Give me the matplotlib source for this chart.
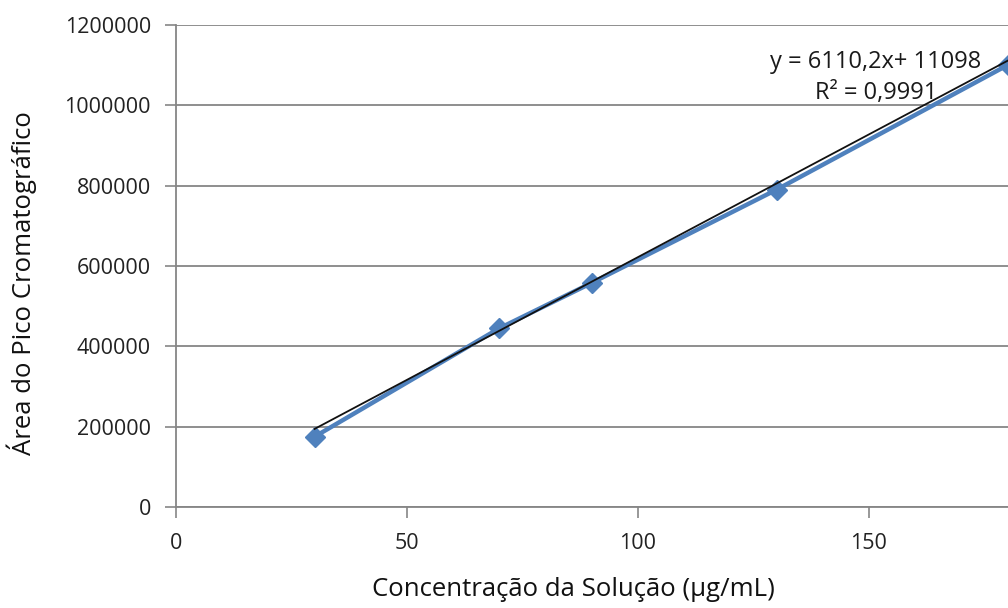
import matplotlib
matplotlib.use("Agg")
import matplotlib.pyplot as plt
import numpy as np

# calibration points: concentration (ug/mL) vs chromatographic peak area
concentracao = [30, 70, 90, 130, 180]
area = [175000, 445000, 558000, 790000, 1100000]

# linear fit reported on the chart
slope = 6110.2
intercept = 11098
r2 = 0.9991

plt.rcParams['font.family'] = ['Open Sans', 'DejaVu Sans']

fig = plt.figure(figsize=(10.08, 6.08), dpi=100)
ax = fig.add_axes([0.1746, 0.1661, 0.8254, 0.7928])

grid_c = '#868686'
ax.set_xlim(0, 180.1)
ax.set_ylim(0, 1200000)
ax.set_yticks(np.arange(0, 1200001, 200000))
ax.set_yticklabels(['{:d}'.format(v) for v in range(0, 1200001, 200000)])
ax.set_xticks([0, 50, 100, 150])
ax.yaxis.grid(True, color=grid_c, linewidth=1.3)
ax.set_axisbelow(True)

for s in ['top', 'right']:
    ax.spines[s].set_visible(False)
for s in ['left', 'bottom']:
    ax.spines[s].set_color(grid_c)
    ax.spines[s].set_linewidth(1.3)

ax.tick_params(axis='both', colors=grid_c, length=8, width=1.2,
               labelcolor='#222222', labelsize=15.5)
ax.tick_params(axis='x', pad=11)
ax.tick_params(axis='y', pad=10)

ax.plot(concentracao, area, color='#4F81BD', linewidth=3.2, marker='D',
        markersize=10, markeredgecolor='#4F81BD', clip_on=False, zorder=3)

xt = np.array([concentracao[0], concentracao[-1]])
ax.plot(xt, slope * xt + intercept, color='#111111', linewidth=1.3, zorder=4)

eq = 'y = {:.1f}x+ {:d}'.format(slope, intercept).replace('.', ',')
ax.text(876 / 1008, 1 - 62 / 608, eq, transform=fig.transFigure,
        ha='center', va='center', fontsize=17, color='#1a1a1a')
ax.text(876 / 1008, 1 - 93 / 608, 'R² = {:.4f}'.format(r2).replace('.', ','),
        transform=fig.transFigure, ha='center', va='center',
        fontsize=17, color='#1a1a1a')

fig.text(573 / 1008, 1 - 590 / 608, 'Concentração da Solução (µg/mL)',
         ha='center', va='center', fontsize=18.5, color='#111111')
fig.text(22 / 1008, 1 - 283 / 608, 'Área do Pico Cromatográfico',
         ha='center', va='center', rotation=90, fontsize=18.5, color='#111111')

fig.savefig('out.png', dpi=100)
